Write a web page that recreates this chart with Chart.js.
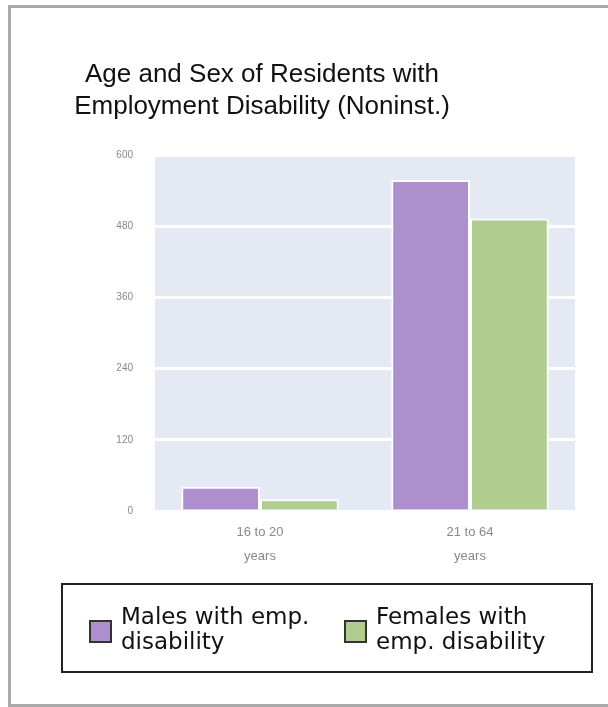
<!DOCTYPE html>
<html>
<head>
<meta charset="utf-8">
<script src="https://cdn.jsdelivr.net/npm/chart.js@4.4.1/dist/chart.umd.min.js"></script>
<style>
  body { margin: 0; background: #fff; }
  #frame { position: absolute; left: 8px; top: 5px; width: 640px; height: 696px; border: 3px solid #aaa; }
  #wrap { position: absolute; left: 0; top: 0; width: 608px; height: 707px; }
  #legend { position: absolute; left: 61px; top: 583px; width: 528px; height: 86px; border: 2px solid #222;
            font-family: "DejaVu Sans", sans-serif; font-size: 23px; line-height: 25px; color: #111; }
  .item { position: absolute; top: 19px; }
  .item .box { position: absolute; left: 0; top: 16px; width: 19px; height: 19px; border: 2px solid #333; }
  .item .txt { position: absolute; left: 32px; top: 0; white-space: nowrap; }
</style>
</head>
<body>
<div id="frame"></div>
<div id="wrap"><canvas id="chart" width="608" height="707"></canvas></div>
<div id="legend"></div>
<script>
const titleLines = ['Age and Sex of Residents with', 'Employment Disability (Noninst.)'];
const categories = [['16 to 20', 'years'], ['21 to 64', 'years']];
const seriesNames = [['Males with emp.', 'disability'], ['Females with', 'emp. disability']];
const males = [41, 558];
const females = [20, 493];
const colors = ['#ad8fcd', '#b1cc8f'];
const yTicks = [0, 120, 240, 360, 480, 600];

// plot background + title drawn at a fixed center like the original
const decor = {
    id: 'decor',
    beforeDraw(chart) {
        const { ctx, chartArea: a } = chart;
        ctx.save();
        ctx.fillStyle = '#e4e9f4';
        ctx.fillRect(a.left, a.top, a.right - a.left, a.bottom - a.top);
        ctx.fillStyle = '#111';
        ctx.font = '26px "Liberation Sans", Arial, sans-serif';
        ctx.textAlign = 'center';
        ctx.textBaseline = 'alphabetic';
        titleLines.forEach((t, i) => ctx.fillText(t, 262, 82 + i * 32));
        ctx.restore();
    }
};

const config = {
    type: 'bar',
    data: {
        labels: categories,
        datasets: [
            { label: seriesNames[0].join(' '), data: males, backgroundColor: colors[0], borderColor: '#fff', borderWidth: 2 },
            { label: seriesNames[1].join(' '), data: females, backgroundColor: colors[1], borderColor: '#fff', borderWidth: 2 }
        ]
    },
    options: {
        responsive: false,
        animation: false,
        categoryPercentage: 0.75,
        barPercentage: 1.0,
        layout: { padding: { top: 155, left: 95, right: 33, bottom: 139 } },
        plugins: { legend: { display: false }, title: { display: false }, tooltip: { enabled: false } },
        scales: {
            x: {
                grid: { display: false, drawTicks: false },
                border: { display: false },
                ticks: {
                    color: '#888',
                    font: { family: '"Liberation Sans", Arial, sans-serif', size: 13, lineHeight: 1.85 },
                    padding: 9,
                    maxRotation: 0,
                    autoSkip: false,
                    callback: (v, i) => categories[i]
                },
                afterFit: s => { s.height = 57; }
            },
            y: {
                min: 0, max: 600,
                afterBuildTicks: s => { s.ticks = yTicks.map(v => ({ value: v })); },
                grid: { color: '#fff', lineWidth: 3, drawTicks: false },
                border: { display: false },
                ticks: { color: '#888', font: { family: '"Liberation Sans", Arial, sans-serif', size: 10 }, padding: 22 },
                afterFit: s => { s.width = 60; }
            }
        }
    },
    plugins: [decor]
};

const myChart = new Chart(document.getElementById('chart'), config);

// html legend built from the chart datasets
const legendEl = document.getElementById('legend');
const itemLeft = [26, 281];
myChart.data.datasets.forEach((ds, i) => {
    const item = document.createElement('div');
    item.className = 'item';
    item.style.left = itemLeft[i] + 'px';
    item.innerHTML = `<span class="box" style="background:${ ds.backgroundColor }"></span>
        <span class="txt">${ seriesNames[i].join('<br>') }</span>`;
    legendEl.appendChild(item);
});
</script>
</body>
</html>
